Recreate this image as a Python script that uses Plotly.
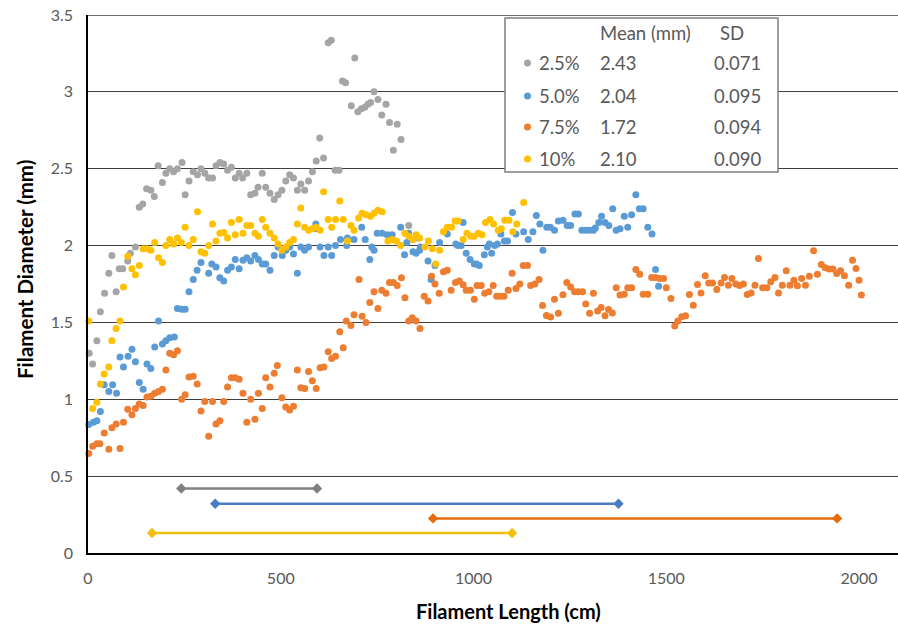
import plotly.graph_objects as go

# ---------------- data ----------------
gray_x = [3, 12, 23, 32, 43, 54, 62, 73, 81, 90, 103, 110, 123, 133, 142, 152, 163, 172, 182, 193,
          202, 212, 222, 232, 244, 252, 262, 273, 284, 293, 303, 313, 323, 332, 342, 352, 362, 372,
          382, 392, 401, 412, 422, 433, 441, 452, 461, 472, 483, 493, 503, 513, 523, 533, 543, 552,
          562, 572, 582, 592, 601, 611, 623, 631, 641, 651, 660, 668, 683, 692, 700, 709, 718, 726,
          733, 742, 752, 762, 773, 782, 792, 802, 812, 832]
gray_y = [1.30, 1.23, 1.38, 1.57, 1.69, 1.82, 1.935, 1.70, 1.85, 1.85, 1.90, 1.95, 1.99, 2.25, 2.27,
          2.37, 2.36, 2.32, 2.52, 2.41, 2.47, 2.50, 2.48, 2.50, 2.54, 2.33, 2.42, 2.48, 2.46, 2.50,
          2.47, 2.44, 2.44, 2.52, 2.54, 2.53, 2.49, 2.51, 2.44, 2.47, 2.44, 2.47, 2.33, 2.34, 2.38,
          2.47, 2.38, 2.34, 2.30, 2.33, 2.36, 2.42, 2.46, 2.44, 2.36, 2.40, 2.36, 2.42, 2.48, 2.55,
          2.70, 2.57, 3.32, 3.335, 2.49, 2.49, 3.07, 3.06, 2.91, 3.22, 2.87, 2.89, 2.90, 2.92, 2.93,
          3.00, 2.95, 2.85, 2.92, 2.80, 2.62, 2.79, 2.69, 2.13]

blue_x = [2, 14, 23, 32, 42, 54, 64, 74, 83, 92, 104, 114, 123, 133, 143, 153, 163, 173, 183, 193,
          202, 212, 224, 232, 243, 252, 262, 273, 283, 293, 313, 321, 332, 342, 352, 362, 372, 382,
          392, 402, 412, 422, 433, 442, 452, 461, 472, 483, 493, 504, 513, 523, 533, 543, 552, 562,
          572, 588, 591, 602, 612, 623, 632, 642, 655, 671, 673, 690, 710, 719, 731, 736, 742, 750,
          763, 776, 789, 811, 821, 827, 832, 843, 851, 854, 860, 862, 882, 890, 900, 912, 932, 954,
          959, 968, 973, 981, 991, 1002, 1008, 1015, 1028, 1036, 1041, 1047, 1055, 1062, 1071, 1080,
          1088, 1101, 1110, 1130, 1142, 1154, 1163, 1172, 1180, 1190, 1199, 1210, 1220, 1232, 1243,
          1252, 1263, 1272, 1281, 1291, 1301, 1311, 1316, 1325, 1332, 1341, 1351, 1361, 1370, 1380,
          1391, 1400, 1410, 1421, 1430, 1440, 1452, 1463, 1472, 1480]
blue_y = [0.836, 0.85, 0.86, 0.92, 1.095, 1.05, 1.095, 1.04, 1.275, 1.21, 1.28, 1.325, 1.245, 1.11,
          1.065, 1.23, 1.20, 1.34, 1.51, 1.36, 1.38, 1.40, 1.405, 1.59, 1.585, 1.585, 1.70, 1.78,
          1.84, 1.89, 1.82, 1.88, 1.86, 1.79, 1.77, 1.84, 1.86, 1.91, 1.85, 1.905, 1.92, 1.90, 1.935,
          1.91, 1.88, 1.88, 1.84, 1.935, 1.99, 1.935, 1.97, 1.99, 1.945, 1.82, 1.99, 1.97, 1.99, 2.11,
          2.14, 1.99, 1.935, 1.99, 1.935, 2.00, 2.04, 2.00, 2.05, 2.04, 2.12, 2.04, 1.91, 1.99, 1.97,
          2.08, 2.08, 2.07, 2.07, 2.12, 1.94, 2.02, 2.08, 1.96, 1.95, 2.05, 1.97, 1.99, 1.90, 1.78,
          1.87, 2.02, 2.075, 2.01, 2.00, 2.00, 2.15, 1.95, 1.91, 1.88, 1.88, 1.87, 1.94, 1.99, 2.01,
          1.95, 2.00, 2.01, 2.075, 2.03, 2.03, 2.215, 2.075, 2.09, 2.04, 2.09, 2.195, 2.14, 1.97,
          2.12, 2.12, 2.10, 2.16, 2.165, 2.13, 2.13, 2.205, 2.205, 2.10, 2.10, 2.10, 2.10, 2.115,
          2.15, 2.19, 2.15, 2.13, 2.24, 2.10, 2.11, 2.19, 2.12, 2.20, 2.33, 2.24, 2.24, 2.12, 2.075,
          1.845, 1.735]

orange_x = [2, 12, 23, 31, 42, 54, 62, 73, 83, 92, 103, 114, 123, 133, 143, 153, 163, 173, 183, 193,
            202, 212, 222, 232, 243, 252, 262, 273, 283, 293, 303, 313, 323, 332, 342, 352, 362, 372,
            382, 392, 402, 412, 422, 433, 442, 452, 461, 472, 483, 491, 503, 513, 523, 533, 543, 552,
            562, 572, 582, 592, 602, 612, 623, 632, 642, 653, 662, 670, 682, 690, 703, 711, 721, 731,
            742, 752, 762, 773, 782, 792, 802, 813, 822, 832, 841, 851, 861, 872, 882, 891, 900, 911,
            922, 932, 942, 953, 963, 973, 981, 992, 1002, 1009, 1020, 1029, 1040, 1051, 1060, 1069,
            1079, 1090, 1100, 1110, 1120, 1129, 1140, 1148, 1159, 1170, 1179, 1189, 1200, 1210, 1220,
            1232, 1242, 1252, 1262, 1272, 1283, 1291, 1301, 1311, 1322, 1331, 1341, 1350, 1360, 1370,
            1380, 1391, 1400, 1410, 1421, 1431, 1440, 1452, 1462, 1472, 1483, 1493, 1500, 1512, 1522,
            1530, 1540, 1550, 1560, 1570, 1581, 1590, 1601, 1610, 1620, 1631, 1642, 1651, 1661, 1670,
            1680, 1690, 1700, 1710, 1720, 1730, 1739, 1750, 1761, 1771, 1782, 1791, 1801, 1811, 1821,
            1831, 1840, 1851, 1861, 1871, 1882, 1892, 1902, 1912, 1922, 1932, 1942, 1952, 1962, 1973,
            1983, 1992, 2000, 2006]
orange_y = [0.647, 0.695, 0.71, 0.71, 0.78, 0.675, 0.815, 0.84, 0.68, 0.85, 0.935, 0.90, 0.94, 0.97,
            0.96, 1.015, 1.02, 1.04, 1.05, 1.065, 1.19, 1.30, 1.29, 1.315, 1.00, 1.03, 1.145, 1.15,
            1.10, 0.924, 0.985, 0.76, 0.985, 0.84, 0.86, 0.985, 1.08, 1.14, 1.14, 1.13, 1.04, 0.85,
            1.00, 0.87, 1.04, 0.94, 1.14, 1.08, 1.17, 1.22, 1.01, 0.95, 0.93, 0.955, 1.19, 1.075,
            1.07, 1.18, 1.12, 1.07, 1.205, 1.21, 1.31, 1.265, 1.28, 1.44, 1.335, 1.51, 1.48, 1.55,
            1.78, 1.54, 1.50, 1.63, 1.70, 1.59, 1.71, 1.69, 1.76, 1.76, 1.74, 1.79, 1.66, 1.51, 1.53,
            1.51, 1.46, 1.67, 1.64, 1.80, 1.75, 1.69, 1.83, 1.84, 1.71, 1.76, 1.77, 1.745, 1.71, 1.71,
            1.65, 1.74, 1.74, 1.69, 1.70, 1.74, 1.67, 1.67, 1.67, 1.71, 1.82, 1.72, 1.75, 1.87, 1.87,
            1.74, 1.75, 1.78, 1.61, 1.545, 1.535, 1.65, 1.56, 1.68, 1.76, 1.73, 1.70, 1.70, 1.70,
            1.62, 1.56, 1.69, 1.575, 1.597, 1.543, 1.584, 1.562, 1.725, 1.678, 1.684, 1.725, 1.725,
            1.844, 1.814, 1.684, 1.684, 1.792, 1.792, 1.786, 1.786, 1.725, 1.656, 1.476, 1.51, 1.537,
            1.543, 1.682, 1.612, 1.747, 1.692, 1.803, 1.757, 1.757, 1.714, 1.757, 1.792, 1.742, 1.786,
            1.75, 1.74, 1.75, 1.682, 1.692, 1.742, 1.916, 1.725, 1.725, 1.764, 1.792, 1.692, 1.742,
            1.836, 1.742, 1.775, 1.738, 1.786, 1.742, 1.801, 1.966, 1.814, 1.877, 1.855, 1.847, 1.847,
            1.818, 1.836, 1.803, 1.742, 1.905, 1.851, 1.775, 1.678]

yellow_x = [2, 12, 23, 32, 42, 54, 62, 73, 83, 92, 103, 114, 123, 133, 143, 153, 163, 173, 183, 193,
            202, 212, 222, 232, 242, 252, 262, 273, 284, 293, 303, 313, 323, 332, 342, 352, 362, 372,
            382, 392, 402, 412, 422, 433, 442, 452, 461, 472, 483, 493, 503, 513, 523, 533, 543, 552,
            562, 572, 582, 592, 602, 611, 623, 632, 642, 653, 662, 673, 682, 690, 702, 711, 721, 733,
            742, 752, 763, 778, 789, 800, 811, 822, 832, 843, 851, 860, 874, 883, 893, 902, 912, 922,
            932, 943, 952, 960, 973, 983, 993, 1002, 1012, 1022, 1031, 1043, 1052, 1064, 1072, 1081,
            1092, 1102, 1112, 1130]
yellow_y = [1.51, 0.94, 0.98, 1.10, 1.165, 1.21, 1.38, 1.46, 1.51, 1.73, 1.93, 1.85, 1.81, 1.87, 1.98,
            1.98, 1.97, 2.02, 1.92, 1.89, 2.00, 2.04, 2.01, 2.05, 2.02, 2.12, 2.00, 2.04, 2.22, 1.96,
            1.95, 2.00, 2.14, 2.03, 2.08, 2.085, 2.05, 2.15, 2.07, 2.17, 2.08, 2.13, 2.13, 2.08, 2.06,
            2.17, 2.12, 2.08, 2.05, 2.01, 1.97, 1.99, 2.02, 2.04, 2.14, 2.245, 2.12, 2.10, 2.11, 2.12,
            2.10, 2.35, 2.17, 2.12, 2.17, 2.29, 2.17, 2.03, 2.13, 2.10, 2.18, 2.21, 2.20, 2.19, 2.21,
            2.23, 2.22, 2.03, 2.04, 2.03, 2.00, 2.08, 2.06, 2.04, 2.07, 2.05, 1.99, 2.03, 1.98, 1.88,
            1.97, 2.09, 2.12, 2.12, 2.16, 2.16, 2.04, 2.08, 2.06, 2.06, 2.08, 2.07, 2.15, 2.17, 2.14,
            2.10, 2.11, 2.165, 2.165, 2.09, 2.14, 2.28]

# stable-region ranges drawn under the data
range_start = [242, 330, 895, 166]
range_end = [594, 1376, 1943, 1100]
range_level = [0.42, 0.32, 0.225, 0.13]

# legend table
legend_labels = ["2.5%", "5.0%", "7.5%", "10%"]
legend_means = ["2.43", "2.04", "1.72", "2.10"]
legend_sd = ["0.071", "0.095", "0.094", "0.090"]

y_tick_vals = [0, 0.5, 1, 1.5, 2, 2.5, 3, 3.5]
y_tick_text = ["0", "0.5", "1", "1.5", "2", "2.5", "3", "3.5"]
x_tick_vals = [0, 500, 1000, 1500, 2000]

# ---------------- styling ----------------
dot_colors = ["#a5a5a5", "#5b9bd5", "#ed7d31", "#ffc000"]
bar_colors = ["#7f7f7f", "#4a7cc4", "#e46c0a", "#f2c010"]
FONT = "Lato"
TXT = "#595959"

VW, VH = 898, 627            # viewport == figure size (page margin removed below)
W, H = VW, VH
ML, MR, MT, MB = 88, 0, 15, VH - 553
PW, PH = W - ML - MR, H - MT - MB


def px(xp):
    """viewport pixel x -> paper x"""
    return (xp - ML) / PW


def py(yp):
    """viewport pixel y -> paper y"""
    return (VH - MB - yp) / PH


fig = go.Figure()

series = [(gray_x, gray_y), (blue_x, blue_y), (orange_x, orange_y), (yellow_x, yellow_y)]
for (xs, ys), c, name in zip(series, dot_colors, legend_labels):
    fig.add_trace(go.Scatter(x=xs, y=ys, mode="markers", name=name,
                             marker=dict(color=c, size=7, line=dict(width=0)),
                             cliponaxis=False, showlegend=False))

for s, e, lv, c in zip(range_start, range_end, range_level, bar_colors):
    fig.add_trace(go.Scatter(x=[s, e], y=[lv, lv], mode="lines+markers",
                             line=dict(color=c, width=2.5),
                             marker=dict(symbol="diamond", size=8, color=c),
                             showlegend=False))

shapes = []
annotations = []
LEG_SIZE = 18.5

# top gridline (at the upper edge of the plot area)
shapes.append(dict(type="line", xref="paper", yref="y", x0=0, x1=1,
                   y0=y_tick_vals[-1], y1=y_tick_vals[-1],
                   line=dict(color="#404040", width=1.3), layer="below"))

# legend box
shapes.append(dict(type="rect", xref="paper", yref="paper", x0=px(505), x1=px(778),
                   y0=py(172), y1=py(18), line=dict(color="#7f7f7f", width=1.5),
                   fillcolor="white", layer="above"))
annotations.append(dict(xref="paper", yref="paper", x=px(598), y=py(33), text="Mean (mm)",
                        showarrow=False, xanchor="left", yanchor="middle",
                        font=dict(family=FONT, size=LEG_SIZE, color=TXT)))
annotations.append(dict(xref="paper", yref="paper", x=px(718), y=py(33), text="SD",
                        showarrow=False, xanchor="left", yanchor="middle",
                        font=dict(family=FONT, size=LEG_SIZE, color=TXT)))
row_y = [63, 96, 127, 159]
for ry, lab, m, sd, c in zip(row_y, legend_labels, legend_means, legend_sd, dot_colors):
    shapes.append(dict(type="circle", xref="paper", yref="paper",
                       x0=px(524), x1=px(531), y0=py(ry + 3.5), y1=py(ry - 3.5),
                       fillcolor=c, line=dict(width=0), layer="above"))
    for xx, t in ((537, lab), (598, m), (712, sd)):
        annotations.append(dict(xref="paper", yref="paper", x=px(xx), y=py(ry), text=t,
                                showarrow=False, xanchor="left", yanchor="middle",
                                font=dict(family=FONT, size=LEG_SIZE, color=TXT)))

# axis titles
annotations.append(dict(xref="paper", yref="paper", x=px(508), y=py(611),
                        text="<b>Filament Length (cm)</b>", showarrow=False,
                        xanchor="center", yanchor="middle",
                        font=dict(family=FONT, size=20, color="#000000")))
annotations.append(dict(xref="paper", yref="paper", x=px(25), y=py(270),
                        text="<b>Filament Diameter (mm)</b>", showarrow=False, textangle=-90,
                        xanchor="center", yanchor="middle",
                        font=dict(family=FONT, size=20.5, color="#000000")))

fig.update_layout(
    width=W, height=H,
    margin=dict(l=ML, r=MR, t=MT, b=MB, pad=0, autoexpand=False),
    paper_bgcolor="white", plot_bgcolor="white",
    shapes=shapes, annotations=annotations,
    showlegend=False, hovermode=False,
    xaxis=dict(range=[0, 2101], tickvals=x_tick_vals, showgrid=False, zeroline=False,
               showline=True, linecolor="#000000", linewidth=1.5, ticks="",
               automargin=False,
               tickfont=dict(family=FONT, size=16, color=TXT), ticklabelstandoff=10),
    yaxis=dict(range=[0, 3.5], tickvals=y_tick_vals, ticktext=y_tick_text,
               showgrid=True, gridcolor="#404040", gridwidth=1.3, zeroline=False,
               showline=True, linecolor="#000000", linewidth=1.5, ticks="",
               ticklabeloverflow="allow", automargin=False,
               tickfont=dict(family=FONT, size=16, color=TXT), ticklabelstandoff=10),
)

fig.write_html("out.html",
               config={"displayModeBar": False},
               post_script="document.body.style.margin='0';"
                           "document.body.style.overflow='hidden';")
